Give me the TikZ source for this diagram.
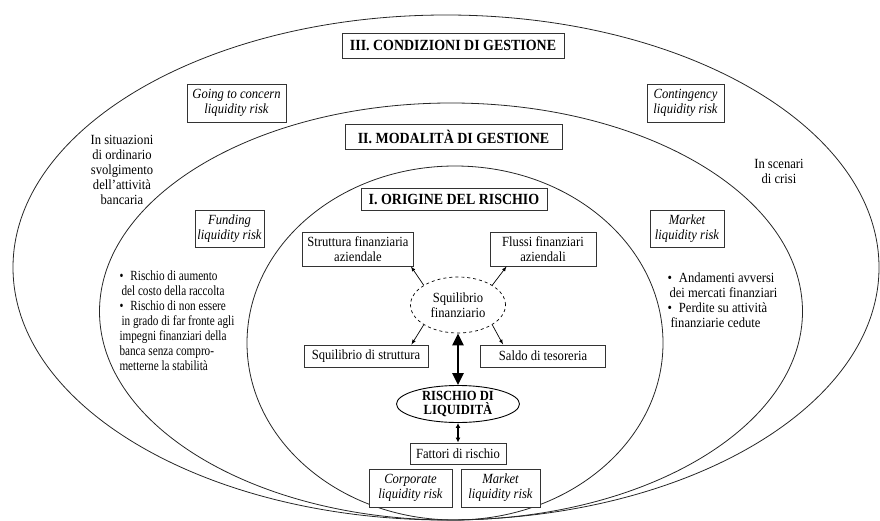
\documentclass[tikz,border=0pt]{standalone}
\usepackage{fontspec}
\setmainfont{Liberation Serif}[FakeStretch=0.9]
\usetikzlibrary{shapes}
\usetikzlibrary{arrows.meta}
\tikzset{
    ring/.style = {line width=0.8pt, draw=black!85},
    box/.style = {rectangle, draw=black!80, line width=0.9pt, fill=white, inner sep=1pt, align=center, font=\fontsize{14}{15}\selectfont},
    title/.style = {box, font=\fontsize{15.5}{17}\selectfont\bfseries},
    riskbox/.style = {box, font=\fontsize{14}{15}\selectfont\itshape},
    txt/.style = {align=center, font=\fontsize{14}{15}\selectfont},
    lst/.style = {align=left, anchor=west, font=\fontsize{14}{15}\selectfont},
    arr/.style = {-latex, line width=0.7pt},
    bigarr/.style = {{Triangle[length=12pt,width=11pt]}-{Triangle[length=12pt,width=11pt]}, line width=2.6pt},
    medarr/.style = {{Latex[length=5pt,width=5pt]}-{Latex[length=5pt,width=5pt]}, line width=1.2pt}
}

\begin{document}
\begin{tikzpicture}[x=1pt, y=-1pt]
  \useasboundingbox (0,0) rectangle (880,521);
  % the three levels
  \draw[ring] (446,267.5) ellipse [x radius=433pt, y radius=252.5pt];
  \draw[ring] (451,311.5) ellipse [x radius=351.5pt, y radius=208.5pt];
  \draw[ring] (455,343) ellipse [x radius=208pt, y radius=177pt];

  % III
  \node[title, minimum width=222pt, minimum height=25pt] (cond) at (453,45.5) {III. CONDIZIONI DI GESTIONE};
  \node[riskbox, minimum width=99pt, minimum height=38pt] (going) at (236.5,103) {Going to concern\\liquidity risk};
  \node[riskbox, minimum width=77pt, minimum height=38pt] (conting) at (685.5,103) {Contingency\\liquidity risk};
  \node[txt] (ordin) at (122,170) {In situazioni\\di ordinario\\svolgimento\\dell'attività\\bancaria};
  \node[txt] (crisi) at (779,171) {In scenari\\di crisi};

  % II
  \node[title, minimum width=217pt, minimum height=25pt] (moda) at (453.5,136.5) {II. MODALITÀ DI GESTIONE};
  \node[riskbox, minimum width=69pt, minimum height=37pt] (funding) at (229.5,228.5) {Funding\\liquidity risk};
  \node[riskbox, minimum width=74pt, minimum height=37pt] (marketl) at (687,228.5) {Market\\liquidity risk};
  \node[lst, font=\fontsize{14}{15}\selectfont\addfontfeatures{FakeStretch=0.8}] (fundtxt) at (116,321) {\textbullet\hspace{7pt}Rischio di aumento\\
    \hspace*{2pt}del costo della raccolta\\
    \textbullet\hspace{7pt}Rischio di non essere\\
    \hspace*{2pt}in grado di far fronte agli\\
    impegni finanziari della\\
    banca senza compro-\\
    metterne la stabilità};
  \node[lst] (markettxt) at (664,300) {\textbullet\hspace{7pt}Andamenti avversi\\
    \hspace*{2pt}dei mercati finanziari\\
    \textbullet\hspace{7pt}Perdite su attività\\
    \hspace*{3pt}finanziarie cedute};

  % I
  \node[title, minimum width=186pt, minimum height=22pt] (orig) at (454,199) {I. ORIGINE DEL RISCHIO};
  \node[box, minimum width=111pt, minimum height=34pt] (strutt) at (358,249) {Struttura finanziaria\\aziendale};
  \node[box, minimum width=106pt, minimum height=34pt] (flussi) at (543,249) {Flussi finanziari\\aziendali};
  \node[box, minimum width=124pt, minimum height=22pt] (sqstr) at (366,356) {Squilibrio di struttura};
  \node[box, minimum width=125pt, minimum height=22pt] (saldo) at (543,356) {Saldo di tesoreria};
  \node[ellipse, draw, dashed, line width=0.7pt, inner sep=0pt, minimum width=95pt, minimum height=56pt, align=center, font=\fontsize{14}{15}\selectfont] (sq) at (458,305) {Squilibrio\\finanziario};
  \node[ellipse, draw, line width=0.9pt, fill=white, inner sep=0pt, minimum width=123pt, minimum height=37pt, align=center, font=\fontsize{14}{14}\selectfont\bfseries] (rl) at (458,404) {RISCHIO DI\\LIQUIDITÀ};
  \node[box, minimum width=96pt, minimum height=21pt] (fatt) at (458,453.5) {Fattori di rischio};
  \node[riskbox, minimum width=83pt, minimum height=38pt] (corp) at (410.5,488) {Corporate\\liquidity risk};
  \node[riskbox, minimum width=79pt, minimum height=38pt] (marketb) at (500.5,488) {Market\\liquidity risk};

  \draw[arr] (sq.150) -- ([xshift=-3pt]strutt.south east);
  \draw[arr] (sq.30) -- ([xshift=17pt]flussi.south west);
  \draw[arr] (sq.210) -- ([xshift=-17pt]sqstr.north east);
  \draw[arr] (sq.330) -- ([xshift=23pt]saldo.north west);
  \draw[bigarr] (sq.south) -- (rl.north);
  \draw[medarr] (rl.south) -- (fatt.north);
\end{tikzpicture}
\end{document}
